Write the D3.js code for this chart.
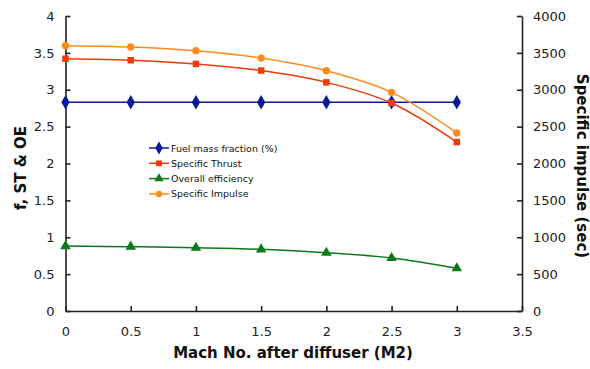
<!DOCTYPE html>
<html><head><meta charset="utf-8">
<script src="https://cdn.jsdelivr.net/npm/d3@7"></script>
<style>body{margin:0;background:#fff}svg{display:block}text{font-family:"DejaVu Sans",Verdana,sans-serif}</style>
</head><body>
<script>
const mach = [0, 0.5, 1, 1.5, 2, 2.5, 3];
const fuelMassFraction = [2.83, 2.83, 2.83, 2.83, 2.83, 2.83, 2.83];
const specificThrust = [3.42, 3.40, 3.35, 3.26, 3.10, 2.82, 2.29];
const overallEfficiency = [0.88, 0.872, 0.858, 0.836, 0.79, 0.719, 0.58];
const specificImpulse = [3598, 3580, 3530, 3430, 3258, 2965, 2414];
const xTicks = [0, 0.5, 1, 1.5, 2, 2.5, 3, 3.5];
const leftTicks = [0, 0.5, 1, 1.5, 2, 2.5, 3, 3.5, 4];
const rightTicks = [0, 500, 1000, 1500, 2000, 2500, 3000, 3500, 4000];

const W = 590, H = 369;
const svg = d3.select("body").append("svg").attr("width", W).attr("height", H);
const x = d3.scaleLinear().domain([0, 3.5]).range([65.5, 522]);
const yL = d3.scaleLinear().domain([0, 4]).range([311, 16]);
const yR = d3.scaleLinear().domain([0, 4000]).range([311, 16]);

const axisColor = "#222";
const gx = svg.append("g").attr("transform", "translate(0,311)")
  .call(d3.axisBottom(x).tickValues(xTicks).tickSizeInner(-5).tickSizeOuter(0).tickPadding(16).tickFormat(d3.format("")));
const gl = svg.append("g").attr("transform", "translate(65.5,0)")
  .call(d3.axisLeft(yL).tickValues(leftTicks).tickSizeInner(-5).tickSizeOuter(0).tickPadding(11).tickFormat(d3.format("")));
const gr = svg.append("g").attr("transform", "translate(522,0)")
  .call(d3.axisRight(yR).tickValues(rightTicks).tickSizeInner(-5).tickSizeOuter(0).tickPadding(11).tickFormat(d3.format("")));
[gx, gl, gr].forEach(g => {
  g.selectAll("path,line").attr("stroke", axisColor).attr("stroke-width", 1.6);
  g.selectAll("text").attr("font-size", 13).attr("fill", "#222").style("font-family", "'DejaVu Sans',Verdana,sans-serif");
});

svg.append("text").attr("x", 293).attr("y", 358).attr("text-anchor", "middle")
  .attr("font-size", 15).attr("font-weight", "bold").attr("fill", "#111").text("Mach No. after diffuser (M2)");
svg.append("text").attr("transform", "translate(26,168) rotate(-90)").attr("text-anchor", "middle")
  .attr("font-size", 15).attr("font-weight", "bold").attr("fill", "#111").text("f, ST & OE");
svg.append("text").attr("transform", "translate(577,166) rotate(90)").attr("text-anchor", "middle")
  .attr("font-size", 15).attr("font-weight", "bold").attr("fill", "#111").text("Specific impulse (sec)");

const series = [
  {name: "Fuel mass fraction (%)", vals: fuelMassFraction, y: yL, color: "#0a1a9a", shape: d3.symbolDiamond, size: 60, curve: d3.curveLinear},
  {name: "Specific Thrust", vals: specificThrust, y: yL, color: "#ee3a0c", shape: d3.symbolSquare, size: 42, curve: d3.curveCatmullRom},
  {name: "Overall efficiency", vals: overallEfficiency, y: yL, color: "#0a7a1a", shape: d3.symbolTriangle, size: 48, curve: d3.curveCatmullRom},
  {name: "Specific Impulse", vals: specificImpulse, y: yR, color: "#ff8c1a", shape: d3.symbolCircle, size: 42, curve: d3.curveCatmullRom}
];

series.forEach(s => {
  const line = d3.line().x((d, i) => x(mach[i])).y(d => s.y(d)).curve(s.curve);
  svg.append("path").datum(s.vals).attr("d", line).attr("fill", "none").attr("stroke", s.color).attr("stroke-width", 1.5);
  svg.append("g").selectAll("path").data(s.vals).join("path")
    .attr("transform", (d, i) => `translate(${x(mach[i])},${s.y(d)})`)
    .attr("d", d3.symbol().type(s.shape).size(s.size)).attr("fill", s.color);
});

const lg = svg.append("g");
series.forEach((s, i) => {
  const yy = 148 + i * 15.3;
  lg.append("line").attr("x1", 149).attr("x2", 169).attr("y1", yy).attr("y2", yy).attr("stroke", s.color).attr("stroke-width", 1.5);
  lg.append("path").attr("transform", `translate(159,${yy})`).attr("d", d3.symbol().type(s.shape).size(s.size * 0.8)).attr("fill", s.color);
  lg.append("text").attr("x", 171).attr("y", yy + 3.5).attr("font-size", 9.5).attr("fill", "#111").text(s.name);
});
</script>
</body></html>
